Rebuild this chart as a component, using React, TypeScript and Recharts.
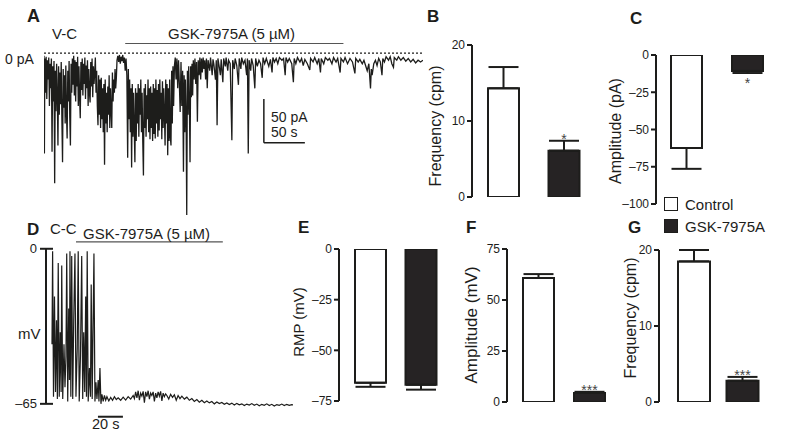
import React from "react";
import {
  BarChart,
  Bar,
  Cell,
  XAxis,
  YAxis,
  ErrorBar,
  LabelList,
  LineChart,
  Line,
  ReferenceLine,
} from "recharts";

const FONT = '"Liberation Sans", Arial, Helvetica, sans-serif';
const INK = "#1d1d1b";
const DARK_BAR = "#262324";

// groups shared by every bar panel
const groups = ["Control", "GSK-7975A"];
const groupFills = ["#ffffff", DARK_BAR];

// B: V-C frequency (cpm)
const vcFreqMean = [14.3, 6.1];
const vcFreqSem = [2.8, 1.3];
const vcFreqStars = ["", "*"];
// C: V-C amplitude (pA)
const vcAmpMean = [-62.4, -10.7];
const vcAmpSem = [14, 1.4];
const vcAmpStars = ["", "*"];
// E: resting membrane potential (mV)
const rmpMean = [-66, -67];
const rmpSem = [2, 2.4];
const rmpStars = ["", ""];
// F: C-C amplitude (mV)
const ccAmpMean = [60.8, 4.4];
const ccAmpSem = [1.9, 0.6];
const ccAmpStars = ["", "***"];
// G: C-C frequency (cpm)
const ccFreqMean = [18.5, 2.8];
const ccFreqSem = [1.5, 0.5];
const ccFreqStars = ["", "***"];

// A: voltage-clamp trace, [time s, current pA]
const vcTrace: [number, number][] = [
  [0, -3], [0.5, -114], [1, -6], [1.8, -45], [2.6, -4], [3.4, -52], [4.2, -8], [5, -30],
  [5.8, -5], [6.6, -60], [7.4, -12], [8.2, -40], [9, -6], [9.8, -112], [10.6, -15], [11.4, -55],
  [12.2, -9], [13, -148], [13.8, -20], [14.6, -66], [15.4, -12], [16.2, -48], [17, -105], [17.8, -15],
  [18.6, -70], [19.4, -22], [20.2, -58], [21, -10], [21.8, -75], [22.6, -124], [23.4, -18], [24.2, -62],
  [25, -25], [25.8, -80], [26.6, -14], [27.4, -68], [28.2, -97], [29, -20], [29.8, -55], [30.6, -9],
  [31.4, -72], [32.2, -105], [33, -12], [33.8, -45], [34.6, -6], [35.4, -36], [36.2, -3], [37, -48],
  [37.8, -8], [38.6, -55], [39.4, -10], [40.2, -38], [41, -4], [41.8, -60], [42.6, -15], [43.4, -50],
  [44.2, -74], [45, -10], [45.8, -42], [46.6, -6], [47.4, -48], [48.2, -12], [49, -35], [49.8, -5],
  [50.6, -52], [51.4, -14], [52.2, -40], [53, -8], [53.8, -60], [54.6, -18], [55.4, -45], [56.2, -56],
  [57, -10], [57.8, -38], [58.6, -6], [59.4, -50], [60.2, -15], [61, -35], [61.8, -22], [62.6, -5],
  [63.4, -45], [64.2, -20], [65, -60], [65.8, -82], [66.6, -25], [67.4, -70], [68.2, -30], [69, -85],
  [69.8, -28], [70.6, -75], [71.4, -40], [72.2, -90], [73, -35], [73.8, -127], [74.6, -30], [75.4, -80],
  [76.2, -45], [77, -90], [77.8, -38], [78.6, -70], [79.4, -25], [80.2, -85], [81, -40], [81.8, -65],
  [82.6, -85], [83.4, -22], [84.2, -55], [85, -30], [85.8, -45], [86.6, -18], [87.4, -40], [88.2, -28],
  [89, -8], [90, -3], [91, -10], [92, -2], [93, -12], [94, -4], [95, -9], [96, -2],
  [97, -11], [98, -5], [99, -20], [100, -6], [101, -25], [102, -119], [102.8, -18], [103.6, -75],
  [104.4, -30], [105.2, -90], [106, -40], [106.8, -130], [107.6, -35], [108.4, -95], [109.2, -45], [110, -85],
  [110.8, -124], [111.6, -40], [112.4, -100], [113.2, -45], [114, -80], [114.8, -35], [115.6, -95], [116.4, -40],
  [117.2, -70], [118, -30], [118.8, -90], [119.6, -45], [120.4, -100], [121.2, -139], [122, -40], [122.8, -85],
  [123.6, -35], [124.4, -95], [125.2, -48], [126, -75], [126.8, -30], [127.6, -90], [128.4, -40], [129.2, -98],
  [130, -38], [130.8, -85], [131.6, -45], [132.4, -100], [133.2, -35], [134, -92], [134.8, -40], [135.6, -97],
  [136.4, -30], [137.2, -80], [138, -42], [138.8, -95], [139.6, -35], [140.4, -88], [141.2, -30], [142, -75],
  [142.8, -45], [143.6, -98], [144.4, -32], [145.2, -85], [146, -40], [146.8, -70], [147.6, -105], [148.4, -30],
  [149.2, -80], [150, -35], [150.8, -116], [151.6, -40], [152.4, -100], [153.2, -30], [154, -95], [154.8, -105],
  [155.6, -20], [156.4, -80], [157.2, -15], [158, -60], [159, -14], [160, -5], [161, -30], [162, -6],
  [163, -40], [164, -8], [165, -35], [166, -67], [167, -10], [168, -60], [169, -20], [170, -135],
  [170.8, -25], [171.6, -90], [172.4, -30], [173.2, -70], [174, -184], [174.8, -20], [175.6, -70], [176.4, -15],
  [177.2, -55], [178, -124], [178.8, -15], [179.6, -50], [180.4, -12], [181.2, -48], [182, -8], [183, -30],
  [184, -6], [185, -35], [186, -10], [187, -78], [188, -8], [189, -25], [190, -5], [191, -30],
  [192, -6], [193, -22], [194, -5], [195, -18], [196, -8], [197, -30], [198, -6], [199, -40],
  [200, -8], [202, -20], [203, -5], [205, -25], [206, -7], [207, -12], [209, -30], [210, -8],
  [211, -82], [212, -6], [214, -18], [215, -25], [216, -7], [218, -33], [219, -6], [221, -15],
  [222, -5], [224, -20], [225, -8], [227, -12], [229, -99], [230, -8], [232, -18], [233, -6],
  [235, -14], [237, -36], [238, -6], [240, -18], [241, -5], [243, -12], [245, -8], [247, -25],
  [248, -6], [249, -114], [250, -8], [252, -20], [253, -6], [255, -14], [257, -40], [258, -6],
  [260, -15], [262, -8], [264, -12], [266, -28], [267, -5], [269, -12], [271, -6], [274, -15],
  [276, -7], [278, -22], [279, -5], [281, -10], [283, -6], [285, -12], [287, -5], [290, -8],
  [292, -6], [294, -25], [295, -5], [297, -10], [299, -6], [302, -12], [304, -33], [305, -6],
  [307, -12], [309, -5], [312, -10], [314, -6], [316, -14], [318, -7], [321, -12], [324, -19],
  [325, -6], [328, -10], [330, -5], [333, -12], [335, -6], [337, -22], [338, -6], [341, -12],
  [343, -5], [346, -8], [348, -6], [351, -12], [353, -5], [356, -10], [358, -6], [361, -22],
  [362, -6], [365, -10], [367, -5], [370, -12], [373, -6], [376, -10], [379, -23], [380, -6],
  [383, -10], [385, -7], [388, -12], [390, -8], [392, -14], [394, -20], [396, -12], [398, -40],
  [399, -18], [400, -25], [402, -12], [404, -8], [406, -14], [408, -6], [410, -10], [412, -25],
  [413, -6], [415, -10], [417, -4], [420, -8], [422, -4], [424, -12], [426, -16], [427, -5],
  [430, -8], [432, -4], [435, -8], [438, -5], [441, -9], [444, -6], [447, -10], [450, -7],
  [453, -11], [456, -8], [459, -10], [462, -8],
];
const vcDrug = [99, 365]; // s, GSK-7975A application
const vcScale = { t: 268, i: -102, dt: 50, di: 50 };

// D: current-clamp trace, [time s, membrane potential mV]
const ccTrace: [number, number][] = [
  [0, -40], [0.5, -1], [1.2, -62], [2, -20], [2.8, -60], [3.6, -30], [4.3, -63], [5, -6],
  [5.8, -62], [6.6, -35], [7.3, -60], [7.8, -7], [8.6, -63], [9.6, -40], [10.4, -58], [11.2, -45],
  [11.8, -2], [12.6, -64], [13.4, -25], [14, -55], [14.4, -1], [15.1, -62], [15.8, -3], [16.6, -63],
  [17.4, -30], [18.4, -2], [19.2, -62], [20.2, -42], [21, -1], [21.8, -64], [22.8, -45], [23.8, -3],
  [24.6, -63], [25.4, -35], [26.2, -60], [27, -20], [27.6, -62], [28.2, -1], [29, -64], [30, -50],
  [30.8, -62], [31.4, -15], [32.2, -63], [33.6, -2], [34.4, -64], [35.2, -56], [36, -63], [37, -55],
  [37.6, -64], [38.4, -50], [39.2, -65], [40, -61], [41, -64], [42, -61.5], [43, -63.5], [44, -62],
  [45.5, -63.8], [47, -62.3], [48.5, -63.5], [50, -62], [51.5, -63.2], [53, -62.5], [55, -63.5], [57, -62.2],
  [59, -63.4], [61, -62], [63, -63], [65, -61.5], [66, -62.8], [67, -60], [68, -62.5], [69, -59.5],
  [70, -63.5], [71, -60.5], [72, -61.8], [73, -59.8], [74, -64.5], [75, -60], [76, -62], [77, -59.5],
  [78, -63], [79, -60.5], [80, -61.5], [81, -60], [82, -64], [83, -60.5], [84, -62.5], [85, -60],
  [86, -61.8], [87, -59.8], [88, -63.8], [89, -60.5], [90, -62], [91, -60.8], [92, -61.5], [93.5, -63],
  [95, -61], [96.5, -62.3], [98, -61.2], [99.5, -63.5], [101, -61.5], [102.5, -62.8], [104, -61.8], [106, -63],
  [108, -62.2], [110, -63.5], [112, -62.8], [114, -64], [116, -63.2], [118, -64.3], [120, -63.5], [122, -64.5],
  [124, -63.8], [126, -64.6], [128, -64], [130, -65], [132, -64.2], [134, -64.9], [136, -64.4], [138, -65.2],
  [140, -64.6], [142, -65.3], [144, -64.7], [146, -65.5], [148, -64.8], [150, -65.4], [152, -65], [154, -65.7],
  [156, -65.1], [158, -65.5], [160, -64.9], [162, -65.6], [164, -65.1], [166, -65.8], [168, -65.2], [170, -65.6],
  [172, -65], [174, -65.7], [176, -65.2], [178, -65.9], [180, -65.3], [182, -65.6], [184, -65.1], [186, -65.7],
  [188, -65.2], [190, -65.6], [192, -65.3], [193, -65.4],
];
const ccDrug = [19.2, 136.8];
const ccTicks = [0, -65];
const ccScale = { t: 36.8, v: -70.4, dt: 20 };
const ccAxisT = -4.8;

const fmt = (v: number) => (v < 0 ? `\u2013${Math.abs(v)}` : `${v}`);

function Txt({ x, capTop, size = 15, bold = false, children }: any) {
  return (
    <div
      style={{
        position: "absolute",
        left: x,
        top: capTop - 0.13 * size,
        fontSize: size,
        lineHeight: 1,
        fontWeight: bold ? 700 : 400,
        whiteSpace: "nowrap",
      }}
    >
      {children}
    </div>
  );
}

function VText({ cx, cy, size = 16, children }: any) {
  return (
    <div
      style={{
        position: "absolute",
        left: cx,
        top: cy,
        fontSize: size,
        lineHeight: 1,
        whiteSpace: "nowrap",
        transform: "translate(-50%, -50%) rotate(-90deg)",
      }}
    >
      {children}
    </div>
  );
}

function BarPanel({ x0, y0, x1, y1, domain, ticks, mean, sem, stars, padding, barSize = 31, zeroTop = false }: any) {
  const data = groups.map((g, i) => ({
    group: g,
    idx: i,
    mean: mean[i],
    err: mean[i] >= 0 ? [0, sem[i]] : [sem[i], 0],
  }));
  const axisW = 44;
  const m = { top: 8, right: 6, bottom: 8, left: 0 };

  const renderStars = (p: any) => {
    const i = Number(p.value);
    const s = stars[i];
    if (!s) return null;
    const vb = p.viewBox ?? p;
    const top = Math.min(vb.y, vb.y + vb.height);
    const bottom = Math.max(vb.y, vb.y + vb.height);
    const ppu = Math.abs(vb.height) / Math.abs(mean[i]);
    const y = mean[i] >= 0 ? top - sem[i] * ppu + 3 : bottom + sem[i] * ppu + 15;
    return (
      <text x={vb.x + vb.width / 2} y={y} textAnchor="middle" fontSize={14} fill="#444" fontFamily={FONT}>
        {s}
      </text>
    );
  };

  return (
    <div style={{ position: "absolute", left: x0 - axisW, top: y0 - m.top }}>
      <BarChart width={x1 - x0 + axisW + m.right} height={y1 - y0 + m.top + m.bottom} data={data} margin={m}>
        <XAxis
          dataKey="group"
          orientation={zeroTop ? "top" : "bottom"}
          height={0}
          tick={false}
          tickLine={false}
          axisLine={{ stroke: INK, strokeWidth: 2 }}
          padding={padding}
        />
        <YAxis
          type="number"
          domain={domain}
          ticks={ticks}
          interval={0}
          width={axisW}
          tickSize={5}
          tickMargin={2}
          tickFormatter={fmt}
          tick={{ fontSize: 12, fill: INK, fontFamily: FONT }}
          axisLine={{ stroke: INK, strokeWidth: 2 }}
          tickLine={{ stroke: INK, strokeWidth: 2 }}
          allowDataOverflow
        />
        <Bar dataKey="mean" barSize={barSize} stroke={INK} strokeWidth={2} isAnimationActive={false}>
          {data.map((d, i) => (
            <Cell key={d.group} fill={groupFills[i]} stroke={INK} strokeWidth={2} />
          ))}
          <ErrorBar dataKey="err" width={15} stroke={INK} strokeWidth={2} direction="y" isAnimationActive={false} />
          <LabelList dataKey="idx" content={renderStars} />
        </Bar>
      </BarChart>
    </div>
  );
}

export default function App() {
  const vcData = vcTrace.map(([t, i]) => ({ t, i }));
  const ccData = ccTrace.map(([t, v]) => ({ t, v }));

  return (
    <div
      style={{
        position: "absolute",
        left: 0,
        top: 0,
        width: 800,
        height: 438,
        background: "#fff",
        overflow: "hidden",
        fontFamily: FONT,
        color: INK,
      }}
    >
      {/* A: voltage-clamp trace */}
      <div style={{ position: "absolute", left: 44, top: 40 }}>
        <LineChart width={379} height={189} data={vcData} margin={{ top: 0, right: 0, bottom: 0, left: 0 }}>
          <XAxis type="number" dataKey="t" domain={[0, 462]} hide />
          <YAxis type="number" domain={[-200, 15]} hide />
          <Line dataKey="i" type="linear" dot={false} stroke={INK} strokeWidth={1.3} isAnimationActive={false} />
          <ReferenceLine y={0} stroke={INK} strokeDasharray="2 2" strokeWidth={1.3} />
          <ReferenceLine
            segment={[{ x: vcDrug[0], y: 11 }, { x: vcDrug[1], y: 11 }]}
            stroke="#555"
            strokeWidth={1.2}
            ifOverflow="visible"
          />
          <ReferenceLine
            segment={[{ x: vcScale.t, y: vcScale.i + vcScale.di }, { x: vcScale.t, y: vcScale.i }]}
            stroke={INK}
            strokeWidth={1.5}
          />
          <ReferenceLine
            segment={[{ x: vcScale.t, y: vcScale.i }, { x: vcScale.t + vcScale.dt, y: vcScale.i }]}
            stroke={INK}
            strokeWidth={1.5}
          />
        </LineChart>
      </div>

      {/* D: current-clamp trace */}
      <div style={{ position: "absolute", left: 0, top: 236 }}>
        <LineChart width={293} height={185} data={ccData} margin={{ top: 8, right: 0, bottom: 10, left: 0 }}>
          <XAxis type="number" dataKey="t" domain={[-9.6, 193]} hide />
          <YAxis
            type="number"
            domain={[-68, 2]}
            ticks={ccTicks}
            interval={0}
            width={40}
            tickSize={0}
            tickMargin={3}
            tickFormatter={fmt}
            axisLine={false}
            tickLine={false}
            tick={{ fontSize: 13, fill: INK, fontFamily: FONT }}
          />
          <Line dataKey="v" type="linear" dot={false} stroke={INK} strokeWidth={1.2} isAnimationActive={false} />
          <ReferenceLine
            segment={[{ x: ccAxisT, y: ccTicks[0] }, { x: ccAxisT, y: ccTicks[1] }]}
            stroke={INK}
            strokeWidth={2}
            ifOverflow="visible"
          />
          {ccTicks.map((v) => (
            <ReferenceLine
              key={v}
              segment={[{ x: -9.6, y: v }, { x: 0.8, y: v }]}
              stroke={INK}
              strokeWidth={2}
              ifOverflow="visible"
            />
          ))}
          <ReferenceLine
            segment={[{ x: ccDrug[0], y: 2.9 }, { x: ccDrug[1], y: 2.9 }]}
            stroke="#555"
            strokeWidth={1.2}
            ifOverflow="visible"
          />
          <ReferenceLine
            segment={[{ x: ccScale.t, y: ccScale.v }, { x: ccScale.t + ccScale.dt, y: ccScale.v }]}
            stroke={INK}
            strokeWidth={2}
            ifOverflow="visible"
          />
        </LineChart>
      </div>

      <BarPanel x0={472} y0={45} x1={594} y1={197} domain={[0, 20]} ticks={[0, 10, 20]}
        mean={vcFreqMean} sem={vcFreqSem} stars={vcFreqStars} padding={{ left: 1, right: 0 }} />
      <BarPanel x0={656} y0={55} x1={787} y1={204} domain={[-100, 0]} ticks={[0, -25, -50, -75, -100]}
        mean={vcAmpMean} sem={vcAmpSem} stars={vcAmpStars} padding={{ left: 0, right: 9 }} zeroTop />
      <BarPanel x0={339} y0={249} x1={457} y1={401} domain={[-75, 0]} ticks={[0, -25, -50, -75]}
        mean={rmpMean} sem={rmpSem} stars={rmpStars} padding={{ left: 6, right: 11 }} zeroTop />
      <BarPanel x0={507} y0={249} x1={626} y1={402} domain={[0, 75]} ticks={[0, 25, 50, 75]}
        mean={ccAmpMean} sem={ccAmpSem} stars={ccAmpStars} padding={{ left: 6, right: 11 }} />
      <BarPanel x0={659} y0={250} x1={787} y1={402} domain={[0, 20]} ticks={[0, 10, 20]}
        mean={ccFreqMean} sem={ccFreqSem} stars={ccFreqStars} padding={{ left: 11, right: 20 }} barSize={32} />

      {/* panel letters and annotations */}
      <Txt x={27} capTop={9} size={18} bold>A</Txt>
      <Txt x={52} capTop={28}>V-C</Txt>
      <Txt x={168} capTop={28}>GSK-7975A (5 µM)</Txt>
      <Txt x={5} capTop={53.5} size={14}>0 pA</Txt>
      <Txt x={271} capTop={112} size={14}>50 pA</Txt>
      <Txt x={271} capTop={126.5} size={14}>50 s</Txt>
      <Txt x={427} capTop={10} size={17} bold>B</Txt>
      <Txt x={630} capTop={12} size={17} bold>C</Txt>
      <Txt x={27} capTop={223} size={17} bold>D</Txt>
      <Txt x={50} capTop={223}>C-C</Txt>
      <Txt x={83} capTop={228}>GSK-7975A (5 µM)</Txt>
      <Txt x={18} capTop={328}>mV</Txt>
      <Txt x={92} capTop={419} size={14.5}>20 s</Txt>
      <Txt x={298} capTop={221} size={17} bold>E</Txt>
      <Txt x={466} capTop={221} size={17} bold>F</Txt>
      <Txt x={628} capTop={221} size={17} bold>G</Txt>

      <VText cx={436} cy={126} size={16}>Frequency (cpm)</VText>
      <VText cx={616} cy={131} size={16}>Amplitude (pA)</VText>
      <VText cx={298} cy={322} size={15}>RMP (mV)</VText>
      <VText cx={471} cy={325} size={17}>Amplitude (mV)</VText>
      <VText cx={631} cy={318} size={16}>Frequency (cpm)</VText>

      {/* legend */}
      {groups.map((g, i) => (
        <div key={g}>
          <div
            style={{
              position: "absolute",
              left: 664,
              top: 197 + i * 22,
              width: 14,
              height: 14,
              boxSizing: "border-box",
              border: `1.6px solid ${INK}`,
              background: groupFills[i],
            }}
          />
          <Txt x={685} capTop={199 + i * 22}>{g}</Txt>
        </div>
      ))}
    </div>
  );
}
